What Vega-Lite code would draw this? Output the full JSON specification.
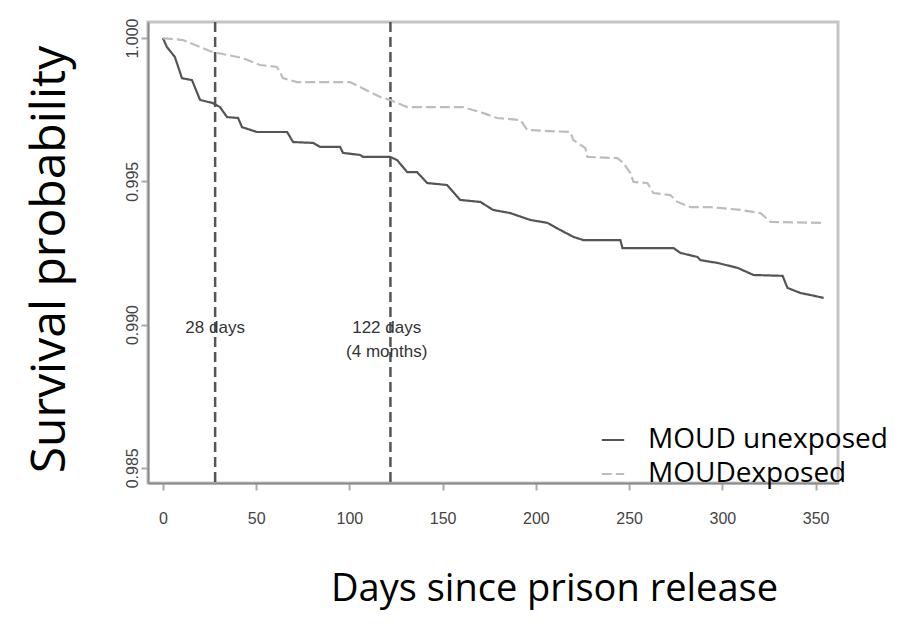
{
  "$schema": "https://vega.github.io/schema/vega-lite/v6.json",
  "width": 690,
  "height": 461,
  "autosize": "none",
  "padding": {"left": 148, "top": 22, "right": 73, "bottom": 147},
  "background": "white",
  "config": {
    "view": {"stroke": "#c4c4c4", "strokeWidth": 3},
    "font": "Liberation Sans",
    "axis": {
      "grid": false,
      "domainColor": "#8a8a8a",
      "domainWidth": 2,
      "tickColor": "#aaaaaa",
      "tickWidth": 2,
      "tickSize": 7,
      "labelColor": "#444444",
      "labelFontSize": 16,
      "titleFont": "Open Sans",
      "titleFontWeight": "normal",
      "titleColor": "#000000"
    }
  },
  "datasets": {
    "curves": [
      {"day": 0, "surv": 1.0, "group": "MOUD unexposed"},
      {"day": 2.1, "surv": 0.99969, "group": "MOUD unexposed"},
      {"day": 6.4, "surv": 0.99934, "group": "MOUD unexposed"},
      {"day": 10.2, "surv": 0.9986, "group": "MOUD unexposed"},
      {"day": 15.6, "surv": 0.99853, "group": "MOUD unexposed"},
      {"day": 19.9, "surv": 0.99784, "group": "MOUD unexposed"},
      {"day": 26.8, "surv": 0.99773, "group": "MOUD unexposed"},
      {"day": 30.6, "surv": 0.99759, "group": "MOUD unexposed"},
      {"day": 34.4, "surv": 0.99724, "group": "MOUD unexposed"},
      {"day": 40.3, "surv": 0.99721, "group": "MOUD unexposed"},
      {"day": 42.4, "surv": 0.99689, "group": "MOUD unexposed"},
      {"day": 50.5, "surv": 0.99672, "group": "MOUD unexposed"},
      {"day": 66.6, "surv": 0.99672, "group": "MOUD unexposed"},
      {"day": 69.8, "surv": 0.99637, "group": "MOUD unexposed"},
      {"day": 80.5, "surv": 0.99634, "group": "MOUD unexposed"},
      {"day": 84.3, "surv": 0.9962, "group": "MOUD unexposed"},
      {"day": 95.0, "surv": 0.9962, "group": "MOUD unexposed"},
      {"day": 96.6, "surv": 0.99599, "group": "MOUD unexposed"},
      {"day": 105.7, "surv": 0.99592, "group": "MOUD unexposed"},
      {"day": 107.4, "surv": 0.99585, "group": "MOUD unexposed"},
      {"day": 121.9, "surv": 0.99585, "group": "MOUD unexposed"},
      {"day": 125.6, "surv": 0.99574, "group": "MOUD unexposed"},
      {"day": 131.0, "surv": 0.99532, "group": "MOUD unexposed"},
      {"day": 136.3, "surv": 0.99532, "group": "MOUD unexposed"},
      {"day": 141.7, "surv": 0.99494, "group": "MOUD unexposed"},
      {"day": 152.4, "surv": 0.99487, "group": "MOUD unexposed"},
      {"day": 159.4, "surv": 0.99435, "group": "MOUD unexposed"},
      {"day": 170.2, "surv": 0.99428, "group": "MOUD unexposed"},
      {"day": 177.1, "surv": 0.994, "group": "MOUD unexposed"},
      {"day": 186.3, "surv": 0.99389, "group": "MOUD unexposed"},
      {"day": 197.0, "surv": 0.99365, "group": "MOUD unexposed"},
      {"day": 206.1, "surv": 0.99355, "group": "MOUD unexposed"},
      {"day": 213.1, "surv": 0.9933, "group": "MOUD unexposed"},
      {"day": 220.1, "surv": 0.99306, "group": "MOUD unexposed"},
      {"day": 225.4, "surv": 0.99295, "group": "MOUD unexposed"},
      {"day": 245.3, "surv": 0.99295, "group": "MOUD unexposed"},
      {"day": 246.4, "surv": 0.99267, "group": "MOUD unexposed"},
      {"day": 273.8, "surv": 0.99267, "group": "MOUD unexposed"},
      {"day": 277.5, "surv": 0.9925, "group": "MOUD unexposed"},
      {"day": 286.6, "surv": 0.99236, "group": "MOUD unexposed"},
      {"day": 288.2, "surv": 0.99225, "group": "MOUD unexposed"},
      {"day": 297.4, "surv": 0.99215, "group": "MOUD unexposed"},
      {"day": 308.1, "surv": 0.99198, "group": "MOUD unexposed"},
      {"day": 316.7, "surv": 0.99173, "group": "MOUD unexposed"},
      {"day": 332.3, "surv": 0.9917, "group": "MOUD unexposed"},
      {"day": 334.9, "surv": 0.99128, "group": "MOUD unexposed"},
      {"day": 341.9, "surv": 0.9911, "group": "MOUD unexposed"},
      {"day": 347.3, "surv": 0.99103, "group": "MOUD unexposed"},
      {"day": 354.3, "surv": 0.99093, "group": "MOUD unexposed"},
      {"day": 0, "surv": 1.0, "group": "MOUDexposed"},
      {"day": 10.7, "surv": 0.99993, "group": "MOUDexposed"},
      {"day": 26.8, "surv": 0.99951, "group": "MOUDexposed"},
      {"day": 42.9, "surv": 0.9993, "group": "MOUDexposed"},
      {"day": 52.1, "surv": 0.99906, "group": "MOUDexposed"},
      {"day": 61.2, "surv": 0.99899, "group": "MOUDexposed"},
      {"day": 64.4, "surv": 0.9986, "group": "MOUDexposed"},
      {"day": 71.9, "surv": 0.99846, "group": "MOUDexposed"},
      {"day": 100.4, "surv": 0.99846, "group": "MOUDexposed"},
      {"day": 116.5, "surv": 0.99794, "group": "MOUDexposed"},
      {"day": 121.8, "surv": 0.99784, "group": "MOUDexposed"},
      {"day": 131.0, "surv": 0.99759, "group": "MOUDexposed"},
      {"day": 161.0, "surv": 0.99759, "group": "MOUDexposed"},
      {"day": 171.8, "surv": 0.99738, "group": "MOUDexposed"},
      {"day": 179.3, "surv": 0.99721, "group": "MOUDexposed"},
      {"day": 191.6, "surv": 0.99714, "group": "MOUDexposed"},
      {"day": 195.4, "surv": 0.99679, "group": "MOUDexposed"},
      {"day": 218.5, "surv": 0.99672, "group": "MOUDexposed"},
      {"day": 220.1, "surv": 0.99644, "group": "MOUDexposed"},
      {"day": 226.5, "surv": 0.99616, "group": "MOUDexposed"},
      {"day": 227.6, "surv": 0.99585, "group": "MOUDexposed"},
      {"day": 243.7, "surv": 0.99581, "group": "MOUDexposed"},
      {"day": 246.9, "surv": 0.99564, "group": "MOUDexposed"},
      {"day": 250.7, "surv": 0.99529, "group": "MOUDexposed"},
      {"day": 252.3, "surv": 0.99498, "group": "MOUDexposed"},
      {"day": 259.8, "surv": 0.99494, "group": "MOUDexposed"},
      {"day": 263.0, "surv": 0.99459, "group": "MOUDexposed"},
      {"day": 272.1, "surv": 0.99452, "group": "MOUDexposed"},
      {"day": 275.9, "surv": 0.99428, "group": "MOUDexposed"},
      {"day": 282.9, "surv": 0.9941, "group": "MOUDexposed"},
      {"day": 293.6, "surv": 0.9941, "group": "MOUDexposed"},
      {"day": 309.7, "surv": 0.994, "group": "MOUDexposed"},
      {"day": 320.5, "surv": 0.99389, "group": "MOUDexposed"},
      {"day": 325.8, "surv": 0.99358, "group": "MOUDexposed"},
      {"day": 354.3, "surv": 0.99355, "group": "MOUDexposed"}
    ],
    "cuts": [{"day": 28}, {"day": 122}],
    "notes": [
      {"day": 28, "surv": 0.98988, "label": "28 days"},
      {"day": 120, "surv": 0.98988, "label": "122 days"},
      {"day": 120, "surv": 0.98904, "label": "(4 months)"}
    ]
  },
  "layer": [
    {
      "data": {"name": "cuts"},
      "mark": {"type": "rule", "color": "#555555", "strokeWidth": 2.5, "strokeDash": [10, 5]},
      "encoding": {
        "x": {"field": "day", "type": "quantitative", "scale": {"domain": [-8, 362], "nice": false, "zero": false}}
      }
    },
    {
      "data": {"name": "curves"},
      "mark": {"type": "line", "strokeWidth": 2.2},
      "encoding": {
        "x": {
          "field": "day", "type": "quantitative",
          "scale": {"domain": [-8, 362], "nice": false, "zero": false},
          "axis": {
            "values": [0, 50, 100, 150, 200, 250, 300, 350],
            "title": "Days since prison release",
            "titleFontSize": 38,
            "titleX": 406, "titleY": 117,
            "titleAlign": "center", "titleBaseline": "alphabetic",
            "labelPadding": 20
          }
        },
        "y": {
          "field": "surv", "type": "quantitative",
          "scale": {"domain": [0.98447, 1.00056], "nice": false, "zero": false},
          "axis": {
            "values": [0.985, 0.99, 0.995, 1.0],
            "format": ".3f",
            "labelAngle": -90, "labelAlign": "center", "labelBaseline": "bottom",
            "labelPadding": 1,
            "title": "Survival probability",
            "titleFontSize": 48,
            "titleAngle": -90,
            "titleX": -84, "titleY": 237,
            "titleAlign": "center", "titleBaseline": "alphabetic"
          }
        },
        "color": {
          "field": "group", "type": "nominal",
          "scale": {"domain": ["MOUD unexposed", "MOUDexposed"], "range": ["#555555", "#bdbdbd"]},
          "legend": {
            "title": null,
            "orient": "none",
            "legendX": 451, "legendY": 404,
            "padding": 0,
            "symbolType": "stroke",
            "symbolSize": 500,
            "symbolStrokeWidth": 2,
            "labelFont": "Open Sans",
            "labelFontSize": 28,
            "labelLimit": 0,
            "labelColor": "#000000",
            "labelOffset": 21,
            "rowPadding": 6
          }
        },
        "strokeDash": {
          "field": "group", "type": "nominal",
          "scale": {"domain": ["MOUD unexposed", "MOUDexposed"], "range": [[1, 0], [10, 4]]},
          "legend": {
            "title": null,
            "orient": "none",
            "legendX": 451, "legendY": 404,
            "padding": 0,
            "symbolType": "stroke",
            "symbolSize": 500,
            "symbolStrokeWidth": 2,
            "labelFont": "Open Sans",
            "labelFontSize": 28,
            "labelLimit": 0,
            "labelColor": "#000000",
            "labelOffset": 21,
            "rowPadding": 6
          }
        }
      }
    },
    {
      "data": {"name": "notes"},
      "mark": {"type": "text", "fontSize": 17, "color": "#333333", "align": "center", "baseline": "middle"},
      "encoding": {
        "x": {"field": "day", "type": "quantitative", "scale": {"domain": [-8, 362], "nice": false, "zero": false}},
        "y": {"field": "surv", "type": "quantitative"},
        "text": {"field": "label"}
      }
    }
  ]
}
